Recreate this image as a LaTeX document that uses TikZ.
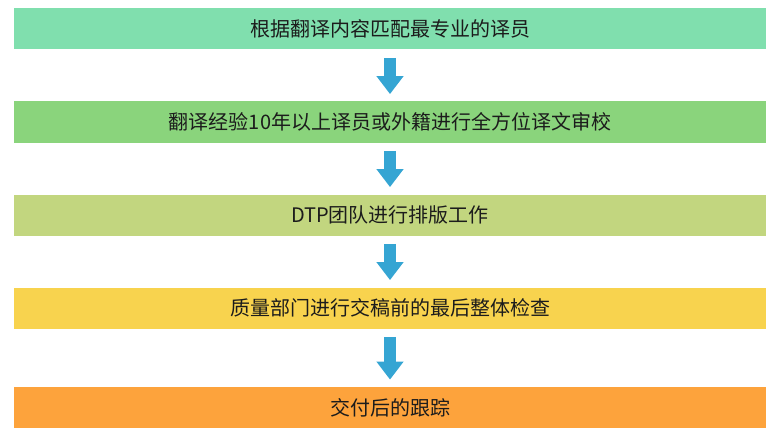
\documentclass[tikz,border=0pt]{standalone}
\usepackage{fontspec}
\usepackage{tikz}
\usetikzlibrary{arrows.meta}
\newfontfamily\cjk{Noto Sans CJK SC}
\definecolor{stepmint}{HTML}{80DFAE}
\definecolor{stepgreen}{HTML}{8AD47C}
\definecolor{stepolive}{HTML}{C2D67F}
\definecolor{stepyellow}{HTML}{F8D34E}
\definecolor{steporange}{HTML}{FDA33C}
\definecolor{arrowblue}{HTML}{35A5D3}
\definecolor{textdark}{HTML}{1C1C1C}
\tikzset{
	stepbar/.style={rectangle, inner sep=0pt, minimum width=376pt, minimum height=20.5pt, text=textdark, font=\cjk\fontsize{10}{12}\selectfont},
	flow/.style={draw=arrowblue, line width=6pt, -{Triangle[width=13pt,length=9pt]}, shorten <=4pt, shorten >=3.5pt}
}

\begin{document}
\begin{tikzpicture}[x=0.5pt, y=-0.5pt]
			%%%%% START %%%%%
			\useasboundingbox (0, 0) rectangle (781, 444);
			
			\node[stepbar, fill=stepmint] (match) at (390, 29) {根据翻译内容匹配最专业的译员};
			\node[stepbar, fill=stepgreen] (review) at (390, 122) {翻译经验10年以上译员或外籍进行全方位译文审校};
			\node[stepbar, fill=stepolive] (dtp) at (390, 215) {DTP团队进行排版工作};
			\node[stepbar, fill=stepyellow] (check) at (390, 308) {质量部门进行交稿前的最后整体检查};
			\node[stepbar, fill=steporange] (track) at (390, 407.5) {交付后的跟踪};
			
			\draw[flow] (match.south) -- (review.north);
			\draw[flow] (review.south) -- (dtp.north);
			\draw[flow] (dtp.south) -- (check.north);
			\draw[flow] (check.south) -- (track.north);
			%%%%% END %%%%%
\end{tikzpicture}
\end{document}
